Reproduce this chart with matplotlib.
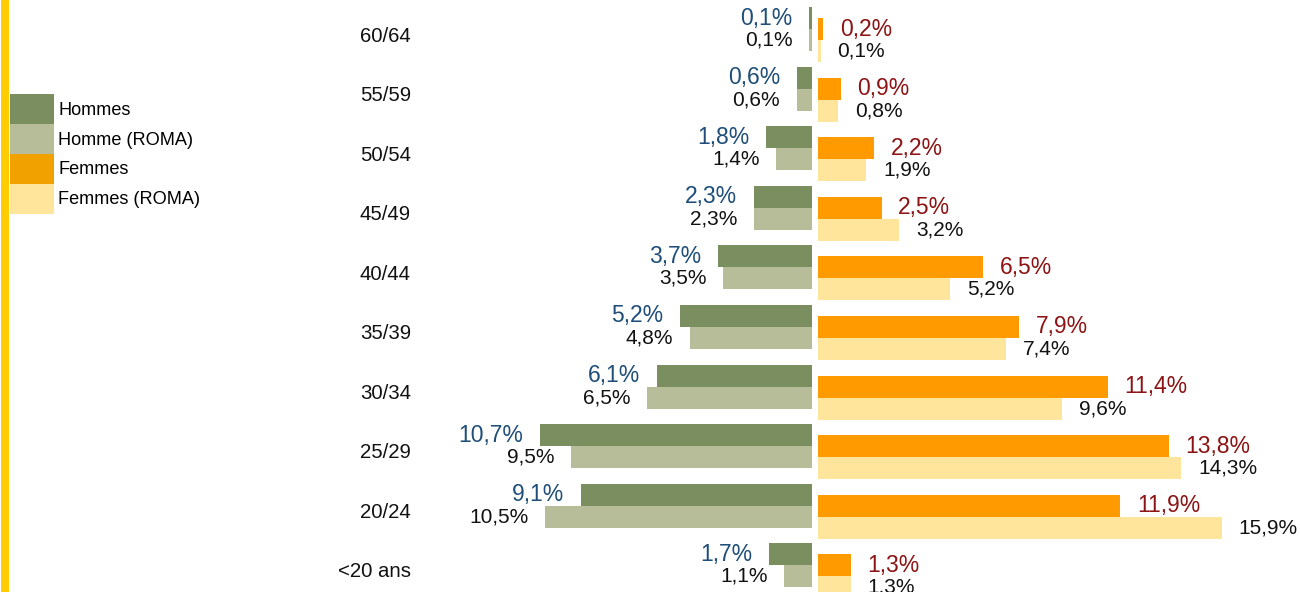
import matplotlib
matplotlib.use("Agg")
import matplotlib.pyplot as plt
from matplotlib.patches import Patch, Rectangle
import numpy as np

plt.rcParams['font.family'] = ['Liberation Sans', 'DejaVu Sans']

# donnees
ages = ['60/64', '55/59', '50/54', '45/49', '40/44', '35/39', '30/34', '25/29', '20/24', '<20 ans']
hommes = [0.1, 0.6, 1.8, 2.3, 3.7, 5.2, 6.1, 10.7, 9.1, 1.7]
hommes_roma = [0.1, 0.6, 1.4, 2.3, 3.5, 4.8, 6.5, 9.5, 10.5, 1.1]
femmes = [0.2, 0.9, 2.2, 2.5, 6.5, 7.9, 11.4, 13.8, 11.9, 1.3]
femmes_roma = [0.1, 0.8, 1.9, 3.2, 5.2, 7.4, 9.6, 14.3, 15.9, 1.3]

c_h = '#7A8E60'
c_hr = '#B6BD98'
c_f = '#FF9B00'
c_fr = '#FFE49B'
c_blue = '#1F4E79'
c_red = '#8C1414'

def fmt(v):
    return ('%.1f%%' % v).replace('.', ',')

fig = plt.figure(figsize=(13, 5.92), dpi=100)
ax = fig.add_axes([420/1300, 0, 880/1300, 1])

y = np.arange(len(ages))
h = 0.37
gap = 0.118
off_h = -0.08
off_f = 0.105

ax.barh(y + off_h - h/2, [-v for v in hommes], left=-gap, height=h, color=c_h)
ax.barh(y + off_h + h/2, [-v for v in hommes_roma], left=-gap, height=h, color=c_hr)
ax.barh(y + off_f - h/2, femmes, left=gap, height=h, color=c_f)
ax.barh(y + off_f + h/2, femmes_roma, left=gap, height=h, color=c_fr)

for i in range(len(ages)):
    ax.annotate(fmt(hommes[i]), (-gap - hommes[i], y[i] + off_h - h/2), xytext=(-12, 0),
                textcoords='offset points', ha='right', va='center', fontsize=16.5, color=c_blue)
    ax.annotate(fmt(hommes_roma[i]), (-gap - hommes_roma[i], y[i] + off_h + h/2), xytext=(-12, 0),
                textcoords='offset points', ha='right', va='center', fontsize=15, color='#111111')
    ax.annotate(fmt(femmes[i]), (gap + femmes[i], y[i] + off_f - h/2), xytext=(12, 0),
                textcoords='offset points', ha='left', va='center', fontsize=16.5, color=c_red)
    ax.annotate(fmt(femmes_roma[i]), (gap + femmes_roma[i], y[i] + off_f + h/2), xytext=(12, 0),
                textcoords='offset points', ha='left', va='center', fontsize=15, color='#111111')

ax.set_xlim(-15.55, 19.09)
ax.set_ylim(9.37, -0.571)
ax.set_yticks(y)
ax.set_yticklabels(ages, fontsize=14.7, color='#111111')
ax.tick_params(axis='y', length=0, pad=6.5)
ax.set_xticks([])
for s in ax.spines.values():
    s.set_visible(False)
ax.patch.set_alpha(0)

# bordure jaune a gauche
fig.add_artist(Rectangle((1/1300, 0), 8/1300, 1, transform=fig.transFigure,
                         color='#FFCC00', lw=0))

handles = [Patch(color=c_h, lw=0), Patch(color=c_hr, lw=0),
           Patch(color='#F2A200', lw=0), Patch(color=c_fr, lw=0)]
fig.legend(handles, ['Hommes', 'Homme (ROMA)', 'Femmes', 'Femmes (ROMA)'],
           loc='upper left', bbox_to_anchor=(10/1300, 1 - 94/592), frameon=False,
           fontsize=13.1, handlelength=2.42, handleheight=2.15, labelspacing=0,
           handletextpad=0.22, borderpad=0, borderaxespad=0)

fig.savefig('out.png', dpi=100)
